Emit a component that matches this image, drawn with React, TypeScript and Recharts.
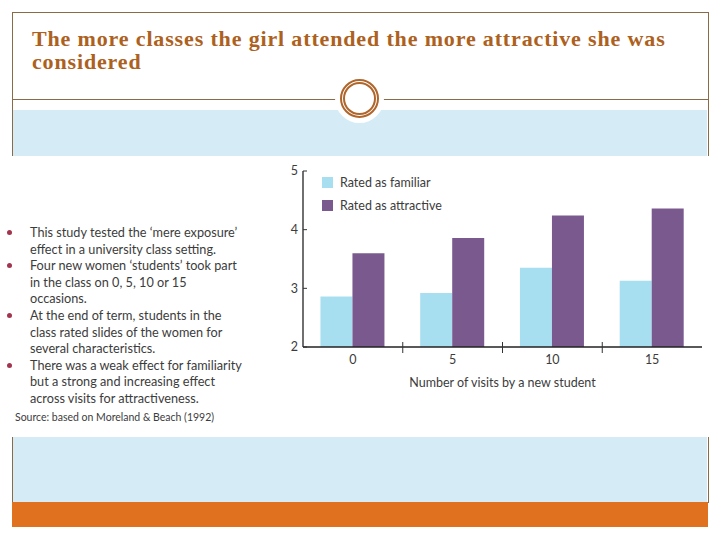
import { BarChart, Bar, XAxis, YAxis } from 'recharts';

// visits by a new student (categories)
const visits = ['0', '5', '10', '15'];
// mean ratings
const familiar = [2.86, 2.92, 3.35, 3.13];
const attractive = [3.6, 3.86, 4.24, 4.36];
const yTicks = [2, 3, 4, 5];

const bulletLines = [
  { text: 'This study tested the ‘mere exposure’', bullet: true },
  { text: 'effect in a university class setting.', bullet: false },
  { text: 'Four new women ‘students’ took part', bullet: true },
  { text: 'in the class on 0, 5, 10 or 15', bullet: false },
  { text: 'occasions.', bullet: false },
  { text: 'At the end of term, students in the', bullet: true },
  { text: 'class rated slides of the women for', bullet: false },
  { text: 'several characteristics.', bullet: false },
  { text: 'There was a weak effect for familiarity', bullet: true },
  { text: 'but a strong and increasing effect', bullet: false },
  { text: 'across visits for attractiveness.', bullet: false },
];

const data = visits.map((v, i) => ({ visits: v, familiar: familiar[i], attractive: attractive[i] }));

const FONT = 'Lato, "Open Sans", sans-serif';
const INK = '#3c3c3c';
const BROWN = '#8b6a48';
const BLUE = '#d5ecf6';
const TICK_MARGIN = 8;

const XTick = (props: any) => {
  const { x, y, payload } = props;
  const axisY = y - TICK_MARGIN;
  const off = payload.offset || 0;
  const last = payload.value === visits[visits.length - 1];
  return (
    <g>
      <text x={x} y={y} dy="0.71em" textAnchor="middle" fontSize={12.5} fill={INK} fontFamily={FONT}>
        {payload.value}
      </text>
      {!last && <line x1={x + off} x2={x + off} y1={axisY - 5} y2={axisY + 6} stroke="#333" strokeWidth={1} />}
    </g>
  );
};

const YTick = (props: any) => {
  const { x, y, payload } = props;
  return (
    <g>
      <text x={x} y={y} dy="0.35em" textAnchor="end" fontSize={12.5} fill={INK} fontFamily={FONT}>
        {payload.value}
      </text>
      <line x1={x + 5} x2={x + 9} y1={y} y2={y} stroke="#333" strokeWidth={1} />
    </g>
  );
};

const series = [
  { key: 'familiar', name: 'Rated as familiar', color: '#a7dff0' },
  { key: 'attractive', name: 'Rated as attractive', color: '#7a5a8e' },
];

const ChartLegend = () => (
  <div style={{ position: 'absolute', left: 322, top: 171 }}>
    {series.map((s) => (
      <div key={s.key} style={{ display: 'flex', alignItems: 'center', height: 23 }}>
        <span style={{ width: 11, height: 11, background: s.color, display: 'inline-block' }} />
        <span style={{ marginLeft: 7, fontSize: 12.5, color: INK, fontFamily: FONT }}>{s.name}</span>
      </div>
    ))}
  </div>
);

export default function App() {
  return (
    <div style={{ position: 'absolute', left: 0, top: 0, width: 720, height: 540, background: '#fff', overflow: 'hidden' }}>
      {/* frame */}
      <div style={{ position: 'absolute', left: 12, top: 12, width: 695, height: 490, borderLeft: `1px solid ${BROWN}`, borderRight: `1px solid ${BROWN}`, borderTop: `1px solid ${BROWN}` }} />
      <div style={{ position: 'absolute', left: 12, top: 99, width: 696, height: 1, background: BROWN }} />
      <div style={{ position: 'absolute', left: 13, top: 110, width: 694, height: 46, background: BLUE }} />
      <div style={{ position: 'absolute', left: 13, top: 437, width: 694, height: 65, background: BLUE }} />
      <div style={{ position: 'absolute', left: 12, top: 502, width: 696, height: 25, background: '#e0721f' }} />
      <div style={{ position: 'absolute', left: 0, top: 156, width: 712, height: 281, background: '#fff' }} />

      {/* ornament */}
      <div style={{ position: 'absolute', left: 335, top: 74, width: 49, height: 49, borderRadius: '50%', background: '#fff' }} />
      <div style={{ position: 'absolute', left: 340, top: 79, width: 29, height: 29, borderRadius: '50%', border: '5px double #b0652a' }} />

      {/* title */}
      <div style={{ position: 'absolute', left: 32, top: 27, width: 680, fontFamily: '"Liberation Serif", serif', fontWeight: 'bold', fontSize: 22, letterSpacing: 0.85, lineHeight: '23px', color: '#ad611e', whiteSpace: 'nowrap' }}>
        The more classes the girl attended the more attractive she was
        <br />
        considered
      </div>

      {/* notes */}
      <div style={{ position: 'absolute', left: 30, top: 224, fontFamily: FONT, fontSize: 12.7, lineHeight: '16.6px', color: INK }}>
        {bulletLines.map((l, i) => (
          <div key={i} style={{ position: 'relative', whiteSpace: 'nowrap' }}>
            {l.bullet && (
              <span style={{ position: 'absolute', left: -23, top: 6, width: 5, height: 5, borderRadius: '50%', background: '#a3344e' }} />
            )}
            {l.text}
          </div>
        ))}
      </div>
      <div style={{ position: 'absolute', left: 15, top: 411, fontFamily: FONT, fontSize: 10.5, color: INK, whiteSpace: 'nowrap' }}>
        Source: based on Moreland &amp; Beach (1992)
      </div>

      {/* chart */}
      <div style={{ position: 'absolute', left: 260, top: 160 }}>
        <BarChart width={450} height={240} data={data} margin={{ top: 11, right: 8, bottom: 8, left: 0 }} barCategoryGap="17.5%" barGap={0}>
          <XAxis
            dataKey="visits"
            height={45}
            tickLine={false}
            tickSize={0}
            tickMargin={TICK_MARGIN}
            tick={<XTick />}
            axisLine={{ stroke: '#222', strokeWidth: 1.3 }}
            label={{ value: 'Number of visits by a new student', position: 'insideBottom', offset: 5, fontSize: 12.5, fill: INK, fontFamily: FONT }}
          />
          <YAxis
            width={43}
            domain={[2, 5]}
            ticks={yTicks}
            tickLine={false}
            tickSize={0}
            tickMargin={5}
            tick={<YTick />}
            axisLine={{ stroke: '#222', strokeWidth: 1.3 }}
          />
          {series.map((s) => (
            <Bar key={s.key} dataKey={s.key} name={s.name} fill={s.color} isAnimationActive={false} />
          ))}
        </BarChart>
      </div>
      <ChartLegend />
    </div>
  );
}
